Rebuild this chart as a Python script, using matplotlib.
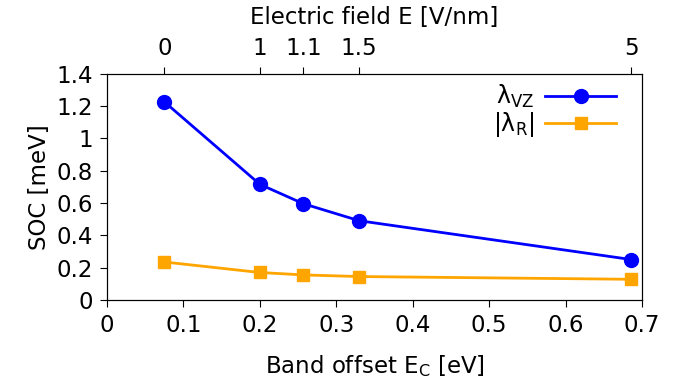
import matplotlib
matplotlib.use("Agg")
import matplotlib.pyplot as plt

band_offset = [0.075, 0.2, 0.257, 0.33, 0.686]
efield_labels = ["0", "1", "1.1", "1.5", "5"]
lambda_vz = [1.225, 0.715, 0.595, 0.49, 0.25]
lambda_r = [0.235, 0.17, 0.155, 0.145, 0.128]
x_ticks = [0, 0.1, 0.2, 0.3, 0.4, 0.5, 0.6, 0.7]
x_ticklabels = ["0", "0.1", "0.2", "0.3", "0.4", "0.5", "0.6", "0.7"]
y_ticks = [0, 0.2, 0.4, 0.6, 0.8, 1.0, 1.2, 1.4]
y_ticklabels = ["0", "0.2", "0.4", "0.6", "0.8", "1", "1.2", "1.4"]

fs = 16.5
fig = plt.figure(figsize=(6.88, 3.81), dpi=100)
ax = fig.add_axes([107/688, 1-300/381, (642-107)/688, (300-73.5)/381])

ax.plot(band_offset, lambda_vz, color="#0000ff", lw=2, marker="o", ms=10,
        label=r"$\mathregular{\lambda_{VZ}}$")
ax.plot(band_offset, lambda_r, color="#ffa500", lw=2, marker="s", ms=9,
        label=r"$\mathregular{|\lambda_{R}|}$")

ax.set_xlim(0, 0.7)
ax.set_ylim(0, 1.4)
ax.set_xticks(x_ticks)
ax.set_xticklabels(x_ticklabels)
ax.set_yticks(y_ticks)
ax.set_yticklabels(y_ticklabels)
ax.tick_params(axis="both", labelsize=fs, length=5, direction="out", pad=5)
ax.set_xlabel(r"Band offset E$_\mathregular{C}$ [eV]", fontsize=fs, labelpad=12)
ax.set_ylabel("SOC [meV]", fontsize=fs)

ax2 = ax.twiny()
ax2.set_xlim(ax.get_xlim())
ax2.set_xticks(band_offset)
ax2.set_xticklabels(efield_labels)
ax2.tick_params(axis="x", labelsize=fs, length=5, direction="out", pad=5)
ax2.set_xlabel("Electric field E [V/nm]", fontsize=fs, labelpad=9)

leg = ax.legend(loc="upper right", frameon=False, fontsize=fs + 0.5, markerfirst=False,
                handlelength=3.0, handletextpad=0.45, borderaxespad=0.0,
                labelspacing=0.0, bbox_to_anchor=(0.969, 1.0))

fig.savefig("out.png", dpi=100)
